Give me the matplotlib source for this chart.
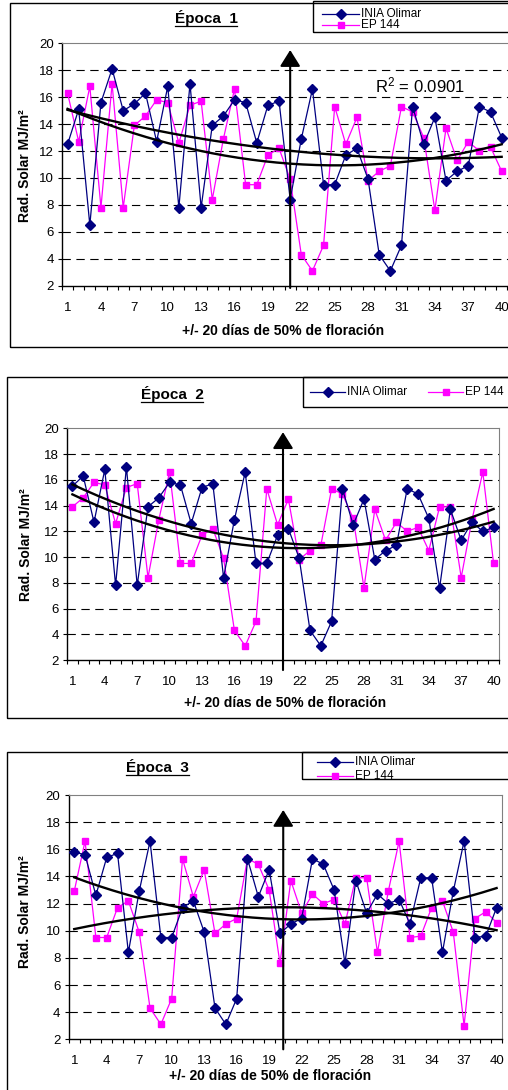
import matplotlib
matplotlib.use("Agg")
import matplotlib.pyplot as plt
from matplotlib.lines import Line2D
from matplotlib.patches import Rectangle
from matplotlib.transforms import Bbox, TransformedBbox
import numpy as np

plt.rcParams['font.family'] = ['Liberation Sans', 'DejaVu Sans']
plt.rcParams['mathtext.fontset'] = 'custom'
plt.rcParams['mathtext.rm'] = 'Liberation Sans'
plt.rcParams['mathtext.it'] = 'Liberation Sans:italic'
plt.rcParams['mathtext.bf'] = 'Liberation Sans:bold'
plt.rcParams['lines.scale_dashes'] = False

W, H = 508, 1090

dias = list(range(1, 41))
dias_etiqueta = list(range(1, 41, 3))

# radiacion solar diaria (MJ/m2), +/- 20 dias alrededor del 50% de floracion
olimar_1 = [12.5, 15.1, 6.5, 15.6, 18.1, 15.0, 15.5, 16.3, 12.7, 16.8,
            7.8, 17.0, 7.8, 13.9, 14.6, 15.8, 15.6, 12.6, 15.4, 15.7,
            8.4, 12.9, 16.6, 9.5, 9.5, 11.7, 12.2, 9.9, 4.3, 3.1,
            5.0, 15.3, 12.5, 14.5, 9.8, 10.5, 10.9, 15.3, 14.9, 13.0]
ep144_1 = [16.3, 12.7, 16.8, 7.8, 17.0, 7.8, 13.9, 14.6, 15.8, 15.6,
           12.6, 15.4, 15.7, 8.4, 12.9, 16.6, 9.5, 9.5, 11.7, 12.2,
           9.9, 4.3, 3.1, 5.0, 15.3, 12.5, 14.5, 9.8, 10.5, 10.9,
           15.3, 14.9, 13.0, 7.6, 13.7, 11.3, 12.7, 12.0, 12.3, 10.5]

olimar_2 = [15.5, 16.3, 12.7, 16.8, 7.8, 17.0, 7.8, 13.9, 14.6, 15.8,
            15.6, 12.6, 15.4, 15.7, 8.4, 12.9, 16.6, 9.5, 9.5, 11.7,
            12.2, 9.9, 4.3, 3.1, 5.0, 15.3, 12.5, 14.5, 9.8, 10.5,
            10.9, 15.3, 14.9, 13.0, 7.6, 13.7, 11.3, 12.7, 12.0, 12.3]
ep144_2 = [13.9, 14.6, 15.8, 15.6, 12.6, 15.4, 15.7, 8.4, 12.9, 16.6,
           9.5, 9.5, 11.7, 12.2, 9.9, 4.3, 3.1, 5.0, 15.3, 12.5,
           14.5, 9.8, 10.5, 10.9, 15.3, 14.9, 13.0, 7.6, 13.7, 11.3,
           12.7, 12.0, 12.3, 10.5, 13.9, 13.9, 8.4, 12.9, 16.6, 9.5]

olimar_3 = [15.8, 15.6, 12.6, 15.4, 15.7, 8.4, 12.9, 16.6, 9.5, 9.5,
            11.7, 12.2, 9.9, 4.3, 3.1, 5.0, 15.3, 12.5, 14.5, 9.8,
            10.5, 10.9, 15.3, 14.9, 13.0, 7.6, 13.7, 11.3, 12.7, 12.0,
            12.3, 10.5, 13.9, 13.9, 8.4, 12.9, 16.6, 9.5, 9.6, 11.7]
ep144_3 = [12.9, 16.6, 9.5, 9.5, 11.7, 12.2, 9.9, 4.3, 3.1, 5.0,
           15.3, 12.5, 14.5, 9.8, 10.5, 10.9, 15.3, 14.9, 13.0, 7.6,
           13.7, 11.3, 12.7, 12.0, 12.3, 10.5, 13.9, 13.9, 8.4, 12.9,
           16.6, 9.5, 9.6, 11.7, 12.2, 9.9, 3.0, 10.9, 11.4, 10.6]

r2_epoca1 = "0.0901"

AZUL = "#000080"
MAGENTA = "#FF00FF"
GRIS = "#808080"


def fx(x):
    return x / W


def fy(y):
    return 1 - y / H


fig = plt.figure(figsize=(W / 100, H / 100), dpi=100)
fig.patch.set_facecolor("white")


def caja(x0, y0, x1, y1, lw=1.0):
    r = Rectangle((fx(x0), fy(y1)), (x1 - x0) / W, (y1 - y0) / H,
                  transform=fig.transFigure, fill=False, ec="black", lw=lw)
    fig.add_artist(r)
    return r


def panel(l, t, r, b, xmax, olimar, ep, x_flecha, y_top, y_bot, borde_der=True):
    ax = fig.add_axes([fx(l), fy(b), (r - l) / W, (b - t) / H])
    ax.set_xlim(0.5, xmax)
    ax.set_ylim(2, 20)
    ax.set_facecolor("white")

    ax.set_yticks(range(2, 21, 2))
    ax.yaxis.grid(True, color="black", linestyle=(0, (6, 4)), lw=0.8)
    gl = ax.get_ygridlines()
    gl[0].set_visible(False)
    gl[-1].set_visible(False)
    ax.set_axisbelow(True)

    ax.set_xticks(dias_etiqueta)
    ax.set_xticks(np.arange(0.5, 41, 1.0), minor=True)
    ax.tick_params(axis="x", which="major", length=0, pad=11.5, labelsize=9.5)
    ax.tick_params(axis="x", which="minor", direction="out", length=3, width=0.8)
    ax.tick_params(axis="y", direction="out", length=3, width=0.8, pad=3, labelsize=9.5)

    for s in ("left", "bottom"):
        ax.spines[s].set_color("black")
        ax.spines[s].set_linewidth(1.0)
    ax.spines["top"].set_color(GRIS)
    ax.spines["right"].set_color(GRIS)
    ax.spines["right"].set_visible(borde_der)

    ax.plot(dias, olimar, color=AZUL, lw=0.9, marker="D", ms=5,
            mfc=AZUL, mec=AZUL, zorder=3)
    ax.plot(dias, ep, color=MAGENTA, lw=0.9, marker="s", ms=5,
            mfc=MAGENTA, mec=MAGENTA, zorder=2)

    # lineas de tendencia polinomicas
    xs = np.linspace(1, 40, 200)
    for serie in (olimar, ep):
        c = np.polyfit(dias, serie, 2)
        ax.plot(xs, np.polyval(c, xs), color="black", lw=1.7, zorder=4)

    ax.annotate("", xy=(x_flecha, y_top), xytext=(x_flecha, y_bot),
                arrowprops=dict(arrowstyle="-|>,head_length=0.4,head_width=0.25",
                                mutation_scale=25, lw=1.5, color="black",
                                shrinkA=0, shrinkB=0),
                annotation_clip=False, zorder=5)
    return ax


def leyenda(filas, clip):
    for (x0, x1, y, color, marca, texto) in filas:
        xm = (x0 + x1) / 2
        ln = Line2D([fx(x0), fx(xm), fx(x1)], [fy(y)] * 3, transform=fig.transFigure,
                    color=color, lw=0.9, marker=marca, ms=5, mfc=color, mec=color,
                    markevery=[1])
        fig.add_artist(ln)
        t = fig.text(fx(x1 + 2), fy(y), texto, fontsize=8.5, va="center", ha="left")
        if clip is not None:
            ln.set_clip_box(clip)
            t.set_clip_box(clip)


def titulo(texto, xc, yb):
    t = fig.text(fx(xc), fy(yb), texto, fontsize=11, fontweight="bold",
                 ha="center", va="baseline")
    return t, yb


# cajas externas
caja(10, 3.3, 530, 347)
caja(7.3, 377, 530, 718.3)
caja(7, 752, 530, 1110)

panel(62, 43.3, 510, 285.7, 40.75, olimar_1, ep144_1, 21, 19.5, 1.83, borde_der=False)
panel(67, 428.3, 499, 660, 40.5, olimar_2, ep144_2, 20.5, 19.7, 1.22)
panel(68.8, 795, 502, 1039.3, 40.5, olimar_3, ep144_3, 20.3, 18.9, 1.26)

ylab = "Rad. Solar MJ/m²"
xlab = "+/- 20 días de 50% de floración"
for (xc, yc) in ((25, 166), (26, 545), (25, 912)):
    fig.text(fx(xc), fy(yc), ylab, rotation=90, fontsize=10, fontweight="bold",
             ha="center", va="center")
for (xc, yc) in ((283, 331), (285, 703), (270, 1076)):
    fig.text(fx(xc), fy(yc), xlab, fontsize=10, fontweight="bold",
             ha="center", va="center")

fig.text(fx(375), fy(92), "R$^2$ = " + r2_epoca1, fontsize=12, ha="left", va="baseline")

# leyendas
caja(312.5, 1, 530, 32.3)
leyenda([(321.7, 359.3, 14, AZUL, "D", "INIA Olimar"),
         (321.7, 359.3, 25, MAGENTA, "s", "EP 144")], None)

caja(302.7, 377, 530, 407)
leyenda([(310, 345, 391.7, AZUL, "D", "INIA Olimar"),
         (428, 463, 391.7, MAGENTA, "s", "EP 144")], None)

caja(302, 752, 530, 779)
clip3 = TransformedBbox(Bbox([[fx(302), fy(779)], [fx(530), fy(752)]]), fig.transFigure)
leyenda([(316.7, 353.3, 761.7, AZUL, "D", "INIA Olimar"),
         (316.7, 353.3, 775.7, MAGENTA, "s", "EP 144")], clip3)

# titulos subrayados
titulos = [titulo("Época  1", 206, 23), titulo("Época  2", 172, 399.3),
           titulo("Época  3", 157.5, 772.3)]
fig.canvas.draw()
rend = fig.canvas.get_renderer()
for t, yb in titulos:
    bb = t.get_window_extent(rend)
    yl = yb + 2.5
    fig.add_artist(Line2D([bb.x0 / W, bb.x1 / W], [fy(yl)] * 2,
                          transform=fig.transFigure, color="black", lw=0.9))

fig.savefig("out.png", dpi=100)
